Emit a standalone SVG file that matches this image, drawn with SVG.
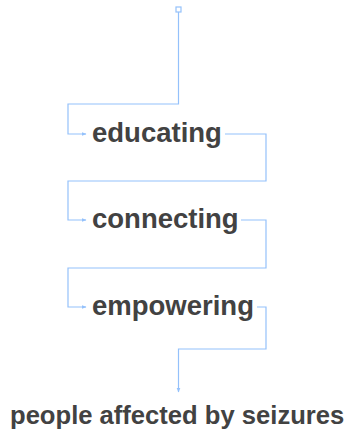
<svg xmlns="http://www.w3.org/2000/svg" width="350" height="437" viewBox="0 0 350 437">
<style>
.c{fill:none;stroke:#94c1fb;stroke-width:1.2}
.t{font-family:"Liberation Sans",Arial,sans-serif;font-weight:bold;fill:#424242}
</style>
<defs>
<marker id="a" viewBox="0 0 10 10" refX="9" refY="5" markerWidth="5" markerHeight="5" orient="auto" markerUnits="userSpaceOnUse"><path d="M0,1 L10,5 L0,9 Z" fill="#94c1fb"/></marker>
</defs>
<rect width="350" height="437" fill="#fff"/>
<g id="connectors">
<rect x="176" y="7" width="5" height="5" class="c"/>
<path class="c" d="M178.5,12 V104 H68 V134 H86" marker-end="url(#a)"/>
<path class="c" d="M225,134 H266 V181 H68 V220 H86" marker-end="url(#a)"/>
<path class="c" d="M241,220 H266 V268 H68 V307 H86" marker-end="url(#a)"/>
<path class="c" d="M257,307 H266 V349 H178.5 V392" marker-end="url(#a)"/>
</g>
<g id="educating"><text class="t" x="92" y="141.5" font-size="27.5">educating</text></g>
<g id="connecting"><text class="t" x="92" y="228" font-size="27.5">connecting</text></g>
<g id="empowering"><text class="t" x="92" y="314.5" font-size="27.5">empowering</text></g>
<g id="people"><text class="t" x="10" y="424" font-size="25.6">people affected by seizures</text></g>
</svg>
